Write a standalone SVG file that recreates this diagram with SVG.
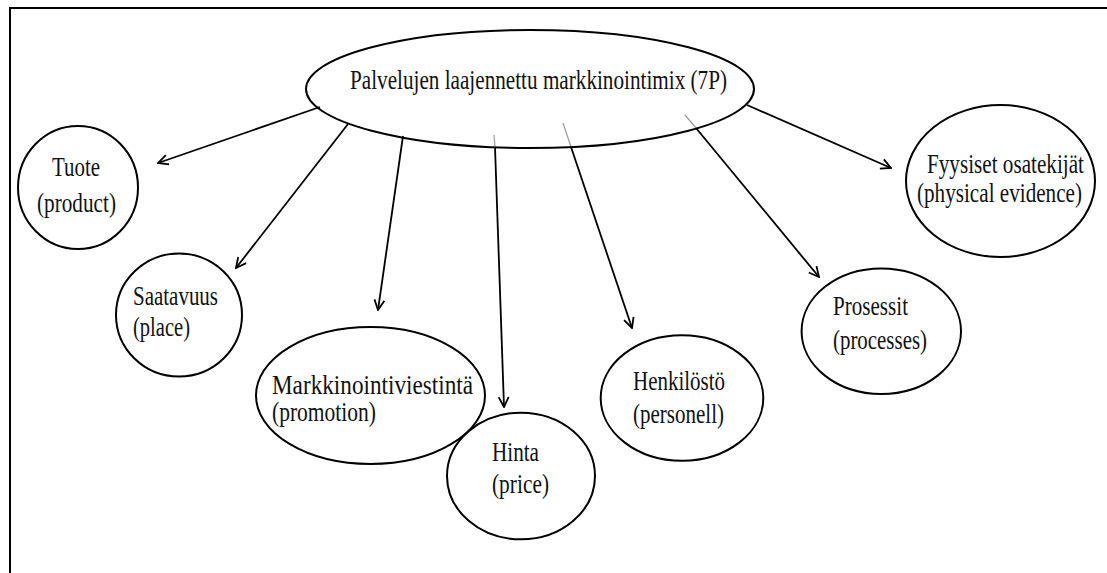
<svg xmlns="http://www.w3.org/2000/svg" width="1107" height="573" viewBox="0 0 1107 573">
<style>
  .shape { fill: #ffffff; stroke: #000000; stroke-width: 2; }
  .lbl { font-family: "Liberation Serif", "Times New Roman", serif; font-size: 28px; fill: #111111; }
  .conn { stroke: #000000; stroke-width: 1.8; fill: none; }
  .faint { stroke: #9a9a9a; stroke-width: 1.2; fill: none; }
  .frame { stroke: #000000; stroke-width: 2; fill: none; }
</style>
<defs>
  <marker id="arrow" viewBox="0 0 12 12" refX="11" refY="6" markerWidth="12" markerHeight="12" markerUnits="userSpaceOnUse" orient="auto">
    <path d="M1,1 L11,6 L1,11" fill="none" stroke="#000000" stroke-width="1.8"/>
  </marker>
</defs>
<rect width="1107" height="573" fill="#ffffff"/>
<path class="frame" d="M10,573 L10,8 L1107,8"/>

<g id="connectors">
  <line class="conn" x1="320" y1="107" x2="158" y2="163" marker-end="url(#arrow)"/>
  <line class="conn" x1="348" y1="124" x2="236" y2="268" marker-end="url(#arrow)"/>
  <line class="conn" x1="403" y1="136" x2="378" y2="310" marker-end="url(#arrow)"/>
  <line class="faint" x1="494" y1="135" x2="495" y2="147"/>
  <line class="conn" x1="495" y1="147" x2="504" y2="407" marker-end="url(#arrow)"/>
  <line class="faint" x1="563" y1="123" x2="571" y2="147"/>
  <line class="conn" x1="571" y1="147" x2="632" y2="328" marker-end="url(#arrow)"/>
  <line class="faint" x1="685" y1="115" x2="696" y2="128"/>
  <line class="conn" x1="696" y1="128" x2="819" y2="277" marker-end="url(#arrow)"/>
  <line class="conn" x1="747" y1="105" x2="891" y2="168" marker-end="url(#arrow)"/>
</g>

<g id="main">
  <ellipse class="shape" cx="530" cy="89" rx="224" ry="59" fill-opacity="0"/>
  <text class="lbl" x="350" y="89" textLength="377" lengthAdjust="spacingAndGlyphs">Palvelujen laajennettu markkinointimix (7P)</text>
</g>

<g id="tuote">
  <ellipse class="shape" cx="78" cy="187.5" rx="60" ry="61.5"/>
  <text class="lbl" x="52" y="176" textLength="48" lengthAdjust="spacingAndGlyphs">Tuote</text>
  <text class="lbl" x="37" y="212" textLength="79" lengthAdjust="spacingAndGlyphs">(product)</text>
</g>

<g id="saatavuus">
  <ellipse class="shape" cx="179" cy="315" rx="63" ry="61.5"/>
  <text class="lbl" x="133" y="305" textLength="85" lengthAdjust="spacingAndGlyphs">Saatavuus</text>
  <text class="lbl" x="133" y="336" textLength="57" lengthAdjust="spacingAndGlyphs">(place)</text>
</g>

<g id="markkinointiviestinta">
  <ellipse class="shape" cx="370.5" cy="395.5" rx="114.5" ry="68.5"/>
  <text class="lbl" x="272" y="394" textLength="201" lengthAdjust="spacingAndGlyphs">Markkinointiviestintä</text>
  <text class="lbl" x="272" y="421" textLength="104" lengthAdjust="spacingAndGlyphs">(promotion)</text>
</g>

<g id="hinta">
  <ellipse class="shape" cx="521" cy="476" rx="74" ry="63.3"/>
  <text class="lbl" x="492" y="461" textLength="47" lengthAdjust="spacingAndGlyphs">Hinta</text>
  <text class="lbl" x="492" y="493" textLength="57" lengthAdjust="spacingAndGlyphs">(price)</text>
</g>

<g id="henkilosto">
  <ellipse class="shape" cx="682" cy="398" rx="81.3" ry="62.8"/>
  <text class="lbl" x="633" y="390" textLength="92" lengthAdjust="spacingAndGlyphs">Henkilöstö</text>
  <text class="lbl" x="633" y="423" textLength="91" lengthAdjust="spacingAndGlyphs">(personell)</text>
</g>

<g id="prosessit">
  <ellipse class="shape" cx="881.3" cy="331.2" rx="79.7" ry="62.8"/>
  <text class="lbl" x="833" y="315" textLength="75" lengthAdjust="spacingAndGlyphs">Prosessit</text>
  <text class="lbl" x="833" y="349" textLength="94" lengthAdjust="spacingAndGlyphs">(processes)</text>
</g>

<g id="fyysiset">
  <ellipse class="shape" cx="1000.5" cy="181" rx="94.5" ry="76"/>
  <text class="lbl" x="927" y="173" textLength="157" lengthAdjust="spacingAndGlyphs">Fyysiset osatekijät</text>
  <text class="lbl" x="917" y="202" textLength="165" lengthAdjust="spacingAndGlyphs">(physical evidence)</text>
</g>
</svg>
